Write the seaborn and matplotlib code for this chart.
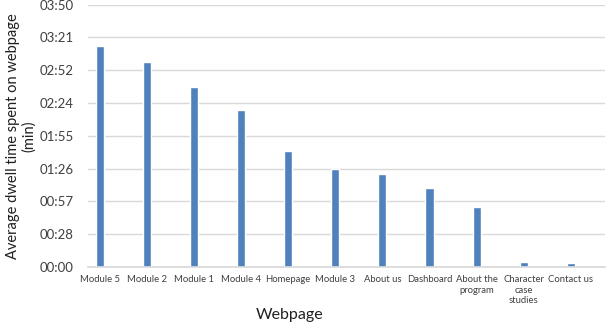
import matplotlib
matplotlib.use("Agg")
import matplotlib.pyplot as plt
import seaborn as sns
import pandas as pd

categories = ["Module 5", "Module 2", "Module 1", "Module 4", "Homepage", "Module 3",
              "About us", "Dashboard", "About the\nprogram", "Character\ncase\nstudies", "Contact us"]
dwell_seconds = [194, 180, 157.5, 137.5, 102, 85.5, 81.5, 69, 52.5, 4, 3.2]
ytick_seconds = [0, 28.75, 57.5, 86.25, 115, 143.75, 172.5, 201.25, 230]
ytick_labels = ["00:00", "00:28", "00:57", "01:26", "01:55", "02:24", "02:52", "03:21", "03:50"]

df = pd.DataFrame({"page": categories, "sec": dwell_seconds})

sns.set_theme(style="white")
plt.rcParams["font.family"] = ["Lato", "DejaVu Sans"]

fig = plt.figure(figsize=(6.06, 3.24), dpi=100)
ax = fig.add_axes([0.145, 0.176, 0.853, 0.81])
sns.barplot(data=df, x="page", y="sec", color="#4F81BD", width=0.17, saturation=1, ax=ax)

ax.set_ylim(0, 230)
ax.set_yticks(ytick_seconds)
ax.set_yticklabels(ytick_labels, fontsize=9.5, color="#404040")
ax.yaxis.grid(True, color="#D9D9D9", linewidth=1)
ax.set_axisbelow(True)
for s in ["top", "right", "left"]:
    ax.spines[s].set_visible(False)
ax.spines["bottom"].set_color("#D9D9D9")
ax.tick_params(axis="both", length=0)
ax.tick_params(axis="x", labelsize=6.8, labelcolor="#404040", pad=6)
ax.tick_params(axis="y", pad=10)
ax.set_xlim(-0.25, len(categories) - 0.28)

ax.set_xlabel("Webpage", fontsize=11.5, color="#202020")
ax.xaxis.set_label_coords(0.39, -0.155)
ax.set_ylabel("Average dwell time spent on webpage\n(min)", fontsize=10.5, color="#202020",
              linespacing=1.15)
ax.yaxis.set_label_coords(-0.1, 0.5)

fig.savefig("out.png", dpi=100)
